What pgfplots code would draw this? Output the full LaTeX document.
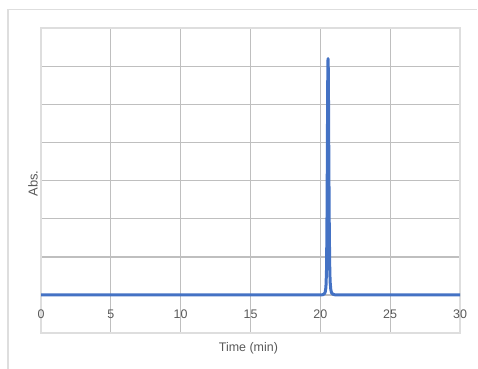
\documentclass[border=0pt]{standalone}
\usepackage{pgfplots}
\pgfplotsset{compat=1.18}
\usepackage{fontspec}
\setmainfont{Liberation Sans}
\definecolor{grid}{HTML}{DEDEDE}
\definecolor{lab}{HTML}{595959}
\definecolor{ser}{HTML}{4472C4}
\begin{document}
\begin{tikzpicture}
\useasboundingbox (0bp,0bp) rectangle (478bp,369bp);
\draw[grid, line width=1.3bp] (8bp,0bp) -- (8bp,359.5bp) -- (477bp,359.5bp);
\begin{axis}[
  at={(41bp,74bp)}, anchor=origin,
  scale only axis, width=419bp, height=305bp,
  xmin=0, xmax=30, ymin=-1, ymax=7,
  xtick={0,5,...,30}, ytick={-1,0,...,7}, yticklabels={},
  major tick length=0pt,
  grid=major,
  major grid style={grid, line width=1.3bp},
  axis line style={grid, line width=1.3bp},
  /pgf/number format/assume math mode=true,
  xticklabel style={anchor=center, yshift=19bp, font=\fontsize{12.5}{14}\selectfont, text=lab},
  xlabel={Time (min)},
  xlabel style={font=\fontsize{12.5}{14}\selectfont, text=lab, at={(axis description cs:0.495,0)}, anchor=center, yshift=-15bp},
  ylabel={Abs.},
  ylabel style={font=\fontsize{13}{15}\selectfont, text=lab, at={(axis description cs:0,0.49)}, anchor=center, rotate=0, yshift=8bp},
  clip=false,
]
\addplot[ser, line width=3bp, line join=round] coordinates {
(0,0) (20.0,0) (20.2,0.01) (20.3,0.04) (20.35,0.08) (20.4,0.2) (20.44,0.6)
(20.47,1.6) (20.49,2.8) (20.51,4.3) (20.53,5.6) (20.545,6.15) (20.555,6.2)
(20.57,5.9) (20.59,4.8) (20.61,3.4) (20.64,1.8) (20.67,0.8) (20.7,0.35)
(20.75,0.14) (20.8,0.06) (20.9,0.02) (21.1,0) (30,0)
};
\end{axis}
\end{tikzpicture}
\end{document}
